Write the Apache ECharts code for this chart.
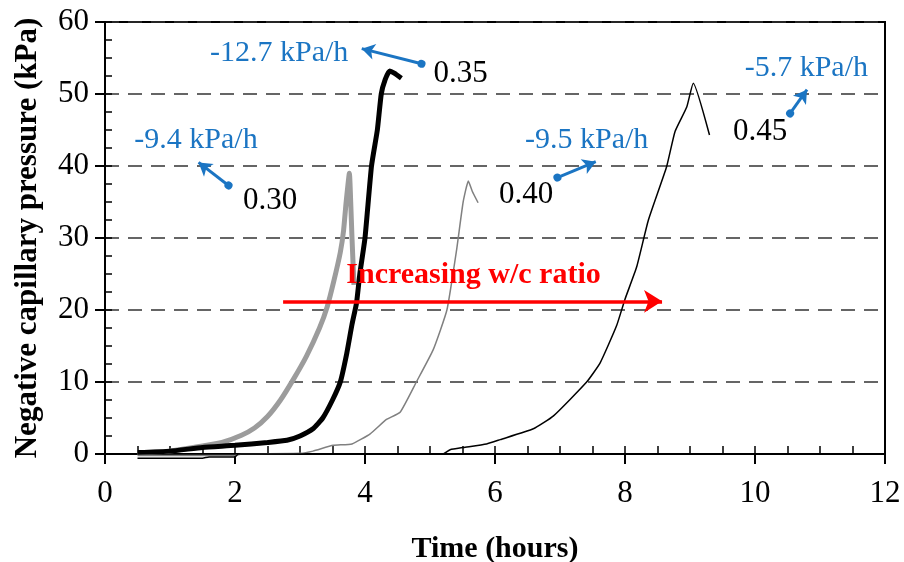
<!DOCTYPE html>
<html>
<head>
<meta charset="utf-8">
<script src="https://cdn.jsdelivr.net/npm/echarts@6/dist/echarts.min.js"></script>
<style>
  html, body { margin: 0; padding: 0; background: #fff; }
  #chart { width: 904px; height: 562px; }
</style>
</head>
<body>
<div id="chart"></div>
<script>
const xTicks = [0, 2, 4, 6, 8, 10, 12];
const yTicks = [0, 10, 20, 30, 40, 50, 60];

// w/c 0.30 (thick grey)
const wc030 = [
  [0.5, 0.2], [1.0, 0.4], [1.5, 1.1], [1.8, 1.6], [2.1, 2.6], [2.3, 3.6], [2.5, 5.2],
  [2.7, 7.5], [2.9, 10.4], [3.1, 13.6], [3.3, 17.5], [3.42, 20.5], [3.52, 24], [3.62, 28],
  [3.67, 31], [3.71, 35], [3.76, 39], [3.78, 35], [3.8, 30], [3.83, 23.5],
];
// w/c 0.35 (thick black)
const wc035 = [
  [0.5, 0.2], [1.0, 0.4], [1.5, 0.9], [2.0, 1.2], [2.5, 1.6], [2.8, 1.9], [3.0, 2.5],
  [3.2, 3.5], [3.35, 5], [3.5, 7.5], [3.62, 10], [3.72, 14], [3.8, 18], [3.87, 21],
  [3.92, 25], [4.0, 30], [4.1, 40], [4.19, 45], [4.25, 50], [4.31, 52], [4.38, 53.2],
  [4.45, 52.9], [4.56, 52.2],
];
// w/c 0.40 (thin grey)
const wc040 = [
  [0.5, -0.2], [2.0, -0.2], [2.1, 0], [3.0, 0.1], [3.2, 0.4], [3.51, 1.2], [3.8, 1.4],
  [4.08, 2.8], [4.33, 4.8], [4.54, 5.8], [4.79, 10], [5.05, 14.5], [5.26, 20], [5.41, 28.4],
  [5.51, 35], [5.59, 37.9], [5.65, 36.5], [5.74, 34.9],
];
// w/c 0.45 (thin black)
const wc045 = [
  [0.5, -0.6], [1.5, -0.6], [1.6, -0.4], [2.0, -0.4], [2.05, 0], [5.2, 0], [5.31, 0.6],
  [5.51, 0.9], [5.87, 1.4], [6.08, 2.0], [6.59, 3.5], [6.9, 5.3], [7.41, 10], [7.62, 12.7],
  [7.87, 17.8], [8.0, 21.5], [8.18, 26], [8.36, 32.5], [8.64, 39.9], [8.77, 44.8],
  [8.95, 48.2], [9.05, 51.5], [9.3, 44.3],
];

// rate annotations: [text, text x, text y, dot x, dot y, head x, head y]
const rateNotes = [
  ['-12.7 kPa/h', 2.68, 55.7, 4.87, 54.2, 3.95, 56.3],
  ['-9.4 kPa/h', 1.40, 43.6, 1.90, 37.3, 1.44, 40.5],
  ['-9.5 kPa/h', 7.41, 43.6, 6.96, 38.4, 7.55, 40.6],
  ['-5.7 kPa/h', 10.79, 53.6, 10.54, 47.3, 10.80, 50.6],
];
// w/c labels: [text, x, y]
const ratioLabels = [
  ['0.30', 2.54, 35.1],
  ['0.35', 5.47, 52.8],
  ['0.40', 6.48, 36.0],
  ['0.45', 10.08, 44.8],
];
const trendText = ['Increasing w/c ratio', 5.67, 24.8];
const trendArrow = [[2.74, 21.2], [8.57, 21.2]];

const serif = '"Liberation Serif", "Times New Roman", serif';
const blue = '#1b75c3';

const chart = echarts.init(document.getElementById('chart'));

const textPoints = [
  ...rateNotes.map((n) => ({ coord: [n[1], n[2]], value: n[0], label: { color: blue, fontSize: 30 } })),
  ...ratioLabels.map((n) => ({ coord: [n[1], n[2]], value: n[0], label: { color: '#000', fontSize: 31 } })),
  {
    coord: [trendText[1], trendText[2]],
    value: trendText[0],
    label: { color: '#ff0000', fontSize: 30, fontWeight: 'bold' },
  },
];

const arrowLines = [
  ...rateNotes.map((n) => [
    { coord: [n[3], n[4]], symbol: 'circle', symbolSize: 8, lineStyle: { color: blue, width: 3, type: 'solid' } },
    { coord: [n[5], n[6]], symbol: 'arrow', symbolSize: [12, 13] },
  ]),
  [
    { coord: trendArrow[0], symbol: 'none', lineStyle: { color: '#ff0000', width: 3.5, type: 'solid' } },
    { coord: trendArrow[1], symbol: 'arrow', symbolSize: [17, 18], itemStyle: { color: '#ff0000' } },
  ],
];

const minorAxis = (extra) => ({
  type: 'value',
  axisLine: { show: true, lineStyle: { color: '#000', width: 2 } },
  axisLabel: { show: false },
  splitLine: { show: false },
  ...extra,
});

const curve = (name, data, color, width, z) => ({
  name, type: 'line', data, showSymbol: false, clip: false, smooth: 0.15,
  lineStyle: { color, width }, z,
});

chart.setOption({
  animation: false,
  backgroundColor: '#fff',
  grid: {
    left: 105, right: 19, top: 22, bottom: 108,
    outerBoundsMode: 'none', containLabel: false,
    show: true, borderColor: '#000', borderWidth: 2,
  },
  xAxis: [
    {
      type: 'value', min: 0, max: 12, interval: 2,
      name: 'Time (hours)', nameLocation: 'middle', nameGap: 80,
      nameTextStyle: { fontFamily: serif, fontSize: 30, fontWeight: 'bold', color: '#000' },
      axisLine: { lineStyle: { color: '#000', width: 2 } },
      axisTick: { show: true, length: 10, lineStyle: { color: '#000', width: 2 } },
      axisLabel: {
        fontFamily: serif, fontSize: 31, color: '#000', margin: 24,
        formatter: (v) => (xTicks.includes(v) ? String(v) : ''),
      },
      splitLine: { show: false },
    },
    minorAxis({
      min: 0, max: 12, interval: 0.5, position: 'bottom',
      axisTick: { show: true, inside: true, length: 8, lineStyle: { color: '#000', width: 1.5 } },
    }),
  ],
  yAxis: [
    {
      type: 'value', min: 0, max: 60, interval: 10,
      name: 'Negative capillary pressure (kPa)', nameLocation: 'middle', nameGap: 62,
      nameTextStyle: { fontFamily: serif, fontSize: 31, fontWeight: 'bold', color: '#000' },
      axisLine: { lineStyle: { color: '#000', width: 2 } },
      axisTick: { show: true, length: 10, lineStyle: { color: '#000', width: 2 } },
      axisLabel: {
        fontFamily: serif, fontSize: 31, color: '#000', margin: 16,
        formatter: (v) => (yTicks.includes(v) ? String(v) : ''),
      },
      splitLine: {
        show: true,
        lineStyle: { color: '#333', width: 1.5, type: [14, 9] },
      },
    },
    minorAxis({
      min: 0, max: 60, interval: 2.5, position: 'left',
      axisTick: { show: true, inside: true, length: 7, lineStyle: { color: '#000', width: 1.5 } },
    }),
  ],
  series: [
    curve('0.30', wc030, '#9c9c9c', 5, 2),
    curve('0.35', wc035, '#000', 5, 3),
    curve('0.40', wc040, '#808080', 1.5, 4),
    {
      ...curve('0.45', wc045, '#000', 1.5, 4),
      markLine: {
        silent: true,
        animation: false,
        label: { show: false },
        itemStyle: { color: blue },
        data: arrowLines,
      },
      markPoint: {
        silent: true,
        symbol: 'circle',
        symbolSize: 0,
        label: {
          show: true, position: 'inside', fontFamily: serif,
          formatter: (p) => p.value,
        },
        data: textPoints,
      },
    },
  ],
});
</script>
</body>
</html>
